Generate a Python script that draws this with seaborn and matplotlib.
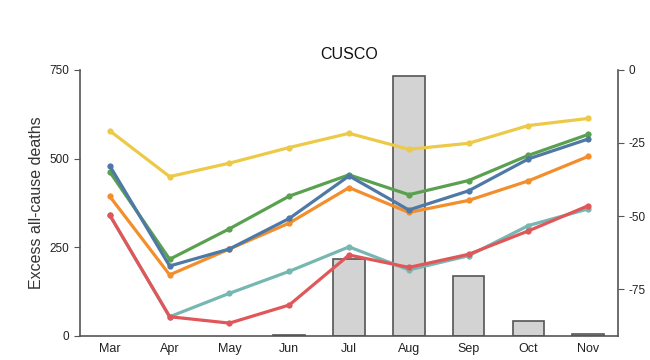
import pandas as pd
import matplotlib
matplotlib.use('Agg')
import matplotlib.pyplot as plt
import seaborn as sns

months = ['Mar', 'Apr', 'May', 'Jun', 'Jul', 'Aug', 'Sep', 'Oct', 'Nov']
bar_values = [None, None, None, 3, 216, 732, 169, 41, 4]

yellow = [578, 449, 487, 531, 571, 526, 543, 593, 613]
orange = [393, 172, 245, 318, 418, 348, 382, 437, 506]
green = [462, 216, 302, 394, 454, 398, 438, 509, 568]
blue = [479, 197, 245, 331, 451, 355, 409, 499, 555]
teal = [340, 54, 120, 182, 251, 186, 226, 311, 358]
red = [340, 54, 36, 87, 228, 193, 230, 296, 367]

series = {'yellow': yellow, 'orange': orange, 'green': green,
          'blue': blue, 'teal': teal, 'red': red}
palette = {'yellow': '#edc948', 'orange': '#f28e2b', 'green': '#59a14f',
           'blue': '#4e79a7', 'teal': '#76b7b2', 'red': '#e15759'}

sns.set_style('white')
plt.rcParams['font.family'] = ['Liberation Sans', 'DejaVu Sans']
plt.rcParams['axes.unicode_minus'] = False

fig = plt.figure(figsize=(6.5, 3.6), dpi=100)
ax = fig.add_axes([0.123, 0.067, 0.828, 0.739])

bars = pd.DataFrame({'month': months, 'value': bar_values})
sns.barplot(data=bars, x='month', y='value', ax=ax, color='#d3d3d3',
            edgecolor='#555555', linewidth=1.2, width=0.53, saturation=1,
            order=months)

rows = []
for name, vals in series.items():
    for i, v in enumerate(vals):
        rows.append({'x': i, 'value': v, 'series': name})
lines = pd.DataFrame(rows)
sns.lineplot(data=lines, x='x', y='value', hue='series', palette=palette,
             hue_order=list(series.keys()), ax=ax, linewidth=2.3,
             marker='o', markersize=4.5, markeredgewidth=0, legend=False)

ax.set_xlim(-0.5, 8.5)
ax.set_ylim(0, 750)
ax.set_yticks([0, 250, 500, 750])
ax.set_xticks(range(len(months)))
ax.set_xticklabels(months)
ax.set_xticks([i - 0.5 for i in range(len(months) + 1)], minor=True)
ax.tick_params(axis='x', which='major', length=0, labelsize=9, colors='#222222', pad=5)
ax.tick_params(axis='x', which='minor', length=4, color='#555555', direction='out')
ax.tick_params(axis='y', length=4, color='#555555', direction='out',
               labelsize=8.5, labelcolor='#222222', left=True)
ax.set_xlabel('')
ax.set_ylabel('Excess all-cause deaths', fontsize=11.5, color='#333333', labelpad=4)
ax.set_title('CUSCO', fontsize=11.5, color='#111111', pad=8)
for s in ['top', 'right']:
    ax.spines[s].set_visible(False)
for s in ['left', 'bottom']:
    ax.spines[s].set_color('#555555')
    ax.spines[s].set_linewidth(1.2)

ax2 = ax.twinx()
ax2.set_ylim(-91, 0)
ax2.set_yticks([0, -25, -50, -75])
ax2.tick_params(axis='y', length=4, color='#555555', direction='out',
                labelsize=8.5, labelcolor='#222222', right=True)
for s in ['top', 'left', 'bottom']:
    ax2.spines[s].set_visible(False)
ax2.spines['right'].set_color('#555555')
ax2.spines['right'].set_linewidth(1.2)

fig.savefig('out.png', dpi=100)
